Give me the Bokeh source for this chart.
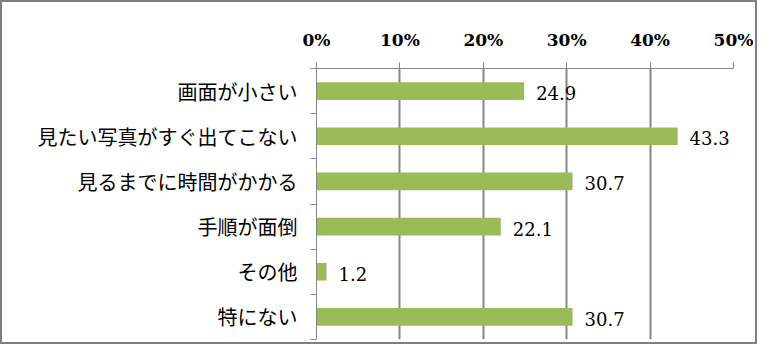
from bokeh.plotting import figure
from bokeh.models import Range1d, FixedTicker, PrintfTickFormatter, ColumnDataSource
from bokeh.core.properties import value
from bokeh.embed import file_html
from bokeh.resources import INLINE

categories = ["画面が小さい", "見たい写真がすぐ出てこない", "見るまでに時間がかかる", "手順が面倒", "その他", "特にない"]
values = [24.9, 43.3, 30.7, 22.1, 1.2, 30.7]
x_ticks = [0, 10, 20, 30, 40, 50]

ys = list(range(len(categories)))
labels = [f"{v:.1f}" for v in values]
src = ColumnDataSource(dict(y=ys, v=values, lab=labels))

GRAY = "#868686"

p = figure(width=757, height=344, x_range=Range1d(0, 50), y_range=Range1d(len(categories) - 0.5, -0.5),
           x_axis_location="above", output_backend="svg", toolbar_location=None,
           min_border_left=314, min_border_right=26, min_border_top=66, min_border_bottom=7)
p.styles = {"border": "2px solid #7f7f7f"}
p.outline_line_color = None
p.background_fill_color = "white"
p.border_fill_color = "white"

p.hbar(y="y", left=0, right="v", height=0.39, source=src, color="#9BBB59", line_color=None)
p.text(x="v", y="y", text="lab", source=src, x_offset=12, y_offset=2,
       text_font=value("DejaVu Serif"), text_font_size="18px", text_color="black",
       text_baseline="middle", text_align="left")

# x axis (top)
xa = p.xaxis[0]
xa.ticker = FixedTicker(ticks=x_ticks)
xa.formatter = PrintfTickFormatter(format="%d%%")
xa.axis_line_color = GRAY
xa.major_tick_line_color = GRAY
xa.major_tick_out = 6
xa.major_tick_in = 0
xa.minor_tick_line_color = None
xa.major_label_text_font = "DejaVu Serif"
xa.major_label_text_font_style = "bold"
xa.major_label_text_font_size = "17px"
xa.major_label_text_color = "black"
xa.major_label_standoff = 13

# y axis (categories, ticks between)
ya = p.yaxis[0]
ya.ticker = FixedTicker(ticks=ys, minor_ticks=[i - 0.5 for i in range(len(categories) + 1)])
ya.major_label_overrides = {i: c for i, c in zip(ys, categories)}
ya.axis_line_color = GRAY
ya.major_tick_line_color = None
ya.major_tick_out = 6
ya.major_tick_in = 0
ya.minor_tick_line_color = GRAY
ya.minor_tick_out = 6
ya.minor_tick_in = 0
ya.major_label_text_font = "Noto Sans CJK JP"
ya.major_label_text_font_size = "20px"
ya.major_label_text_color = "black"
ya.major_label_standoff = 13

p.xgrid.ticker = FixedTicker(ticks=x_ticks[1:])
p.xgrid.grid_line_color = GRAY
p.xgrid.grid_line_width = 2
p.ygrid.grid_line_color = None

open("out.html", "w").write(file_html(p, INLINE))
